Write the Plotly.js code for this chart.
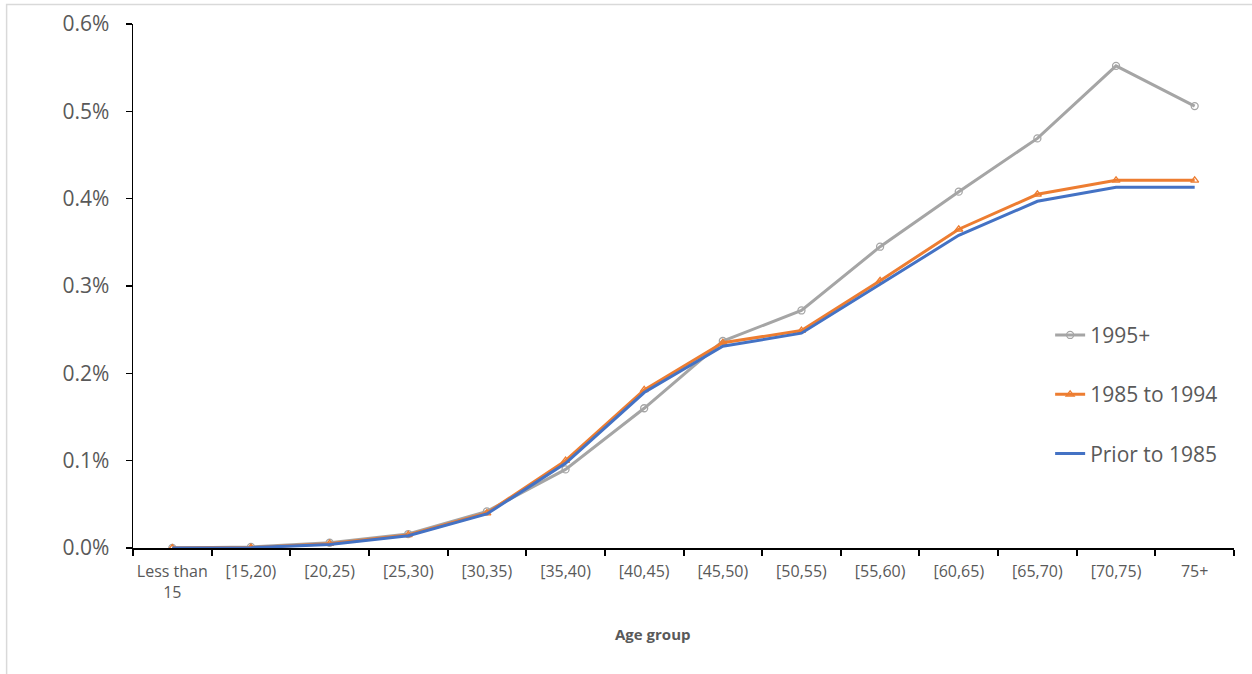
<!DOCTYPE html>
<html>
<head>
<meta charset="utf-8">
<script src="https://cdn.plot.ly/plotly-3.0.1.min.js"></script>
<style>
  html, body { margin: 0; padding: 0; background: #ffffff; }
  #chart { width: 1252px; height: 674px; }
</style>
</head>
<body>
<div id="chart"></div>
<script>
// Age groups on the horizontal axis
const ageGroups = ['Less than<br>15', '[15,20)', '[20,25)', '[25,30)', '[30,35)', '[35,40)', '[40,45)',
                   '[45,50)', '[50,55)', '[55,60)', '[60,65)', '[65,70)', '[70,75)', '75+'];

// Rates by age group for each cohort (fractions, shown as percentages)
const rate1995Plus = [0.000001, 0.000012, 0.00006, 0.00016, 0.00042, 0.00090, 0.00160,
                      0.00237, 0.00272, 0.00345, 0.00408, 0.00469, 0.00552, 0.00506];
const rate1985to1994 = [0.0, 0.000005, 0.00005, 0.00015, 0.00040, 0.00100, 0.00181,
                        0.00235, 0.00249, 0.00306, 0.00365, 0.00405, 0.00421, 0.00421];
const ratePrior1985 = [0.0, 0.000003, 0.00004, 0.00014, 0.00039, 0.00097, 0.00178,
                       0.00231, 0.00246, 0.00302, 0.00358, 0.00397, 0.00413, 0.00413];

const seriesNames = ['1995+', '1985 to 1994', 'Prior to 1985'];

const textColor = '#595959';
const fontFamily = '"Open Sans", "Noto Sans", sans-serif';

const traces = [
  {
    x: ageGroups, y: rate1995Plus, name: seriesNames[0], legendgroup: 'a',
    type: 'scatter', mode: 'lines+markers',
    line: { color: '#A5A5A5', width: 3 },
    marker: { symbol: 'circle-open', size: 7, color: '#A5A5A5', line: { width: 1.3 } }
  },
  {
    x: ageGroups, y: rate1985to1994, name: seriesNames[1], legendgroup: 'b',
    type: 'scatter', mode: 'lines+markers',
    line: { color: '#ED7D31', width: 3 },
    marker: { symbol: 'triangle-up-open', size: 7, color: '#ED7D31', line: { width: 1.3 } }
  },
  {
    x: ageGroups, y: ratePrior1985, name: seriesNames[2], legendgroup: 'c',
    type: 'scatter', mode: 'lines',
    line: { color: '#4472C4', width: 3 }
  }
];

const layout = {
  width: 1252, height: 674,
  margin: { l: 133, r: 18, t: 24, b: 126 },
  paper_bgcolor: '#ffffff', plot_bgcolor: '#ffffff',
  font: { family: fontFamily, color: textColor },
  showlegend: true,
  legend: {
    x: 0.833, xanchor: 'left', y: 0.445, yanchor: 'top',
    font: { size: 21, color: textColor, family: fontFamily },
    tracegroupgap: 29, bgcolor: 'rgba(0,0,0,0)'
  },
  xaxis: {
    type: 'category', range: [-0.5, 13.5],
    showline: true, linecolor: '#000000', linewidth: 2,
    ticks: 'outside', tickson: 'boundaries', ticklen: 6, tickwidth: 2, tickcolor: '#000000',
    showgrid: false, zeroline: false, tickangle: 0,
    tickfont: { size: 16, color: textColor, family: fontFamily },
    ticklabelstandoff: 8
  },
  yaxis: {
    range: [0, 0.006], dtick: 0.001, tickformat: '.1%',
    showline: true, linecolor: '#000000', linewidth: 1.5,
    ticks: 'outside', ticklen: 6, tickwidth: 1.5, tickcolor: '#000000',
    showgrid: false, zeroline: false,
    tickfont: { size: 21, color: textColor, family: fontFamily },
    ticklabelstandoff: 12
  },
  annotations: [
    {
      text: '<b>Age group</b>', xref: 'paper', yref: 'paper',
      x: 0.4723, y: -0.164, xanchor: 'center', yanchor: 'middle',
      showarrow: false, font: { size: 15, color: textColor, family: fontFamily }
    }
  ],
  shapes: [
    {
      type: 'rect', xref: 'paper', yref: 'paper', layer: 'below',
      x0: -0.1148, x1: 1.2, y0: 1.0372, y1: -0.4,
      line: { color: '#D9D9D9', width: 1.5 }, fillcolor: 'rgba(0,0,0,0)'
    }
  ]
};

Plotly.newPlot('chart', traces, layout, { displayModeBar: false, staticPlot: true });
</script>
</body>
</html>
